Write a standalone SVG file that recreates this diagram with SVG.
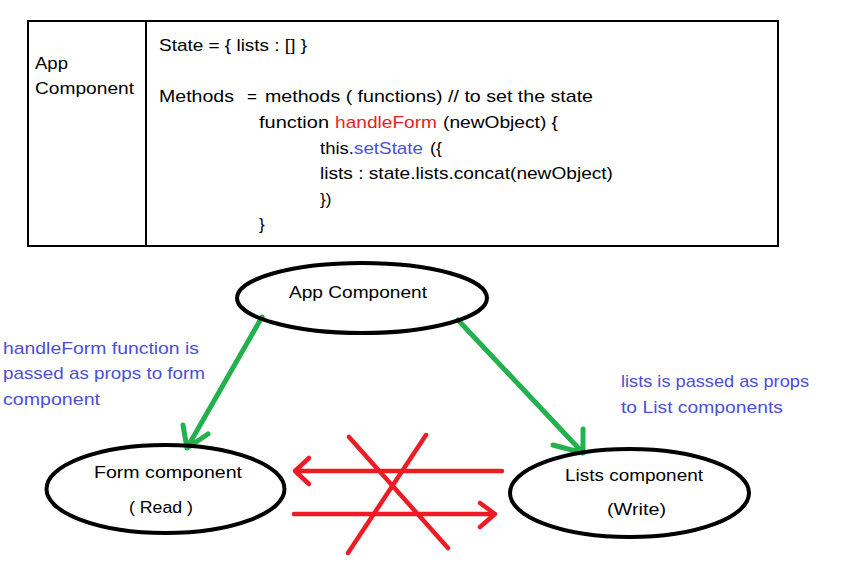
<svg xmlns="http://www.w3.org/2000/svg" width="851" height="567" viewBox="0 0 851 567">
<style>
  text { font-family: "Liberation Sans", Arial, sans-serif; font-size: 17px; fill: #000; }
  .blue { fill: #4b4fd8; }
  .red { fill: #ed1c24; }
  .node { fill: none; stroke: #000; stroke-width: 4; }
  .green { stroke: #22b14c; stroke-width: 5; fill: none; stroke-linecap: round; stroke-linejoin: round; }
  .redl { stroke: #ed1c24; stroke-width: 4.5; fill: none; stroke-linecap: round; stroke-linejoin: round; }
</style>
<rect width="851" height="567" fill="#fff"/>
<g id="table">
  <rect x="28" y="21" width="750" height="225" fill="none" stroke="#000" stroke-width="2"/>
  <line x1="146" y1="21" x2="146" y2="246" stroke="#000" stroke-width="2"/>
  <text x="35" y="69" textLength="33" lengthAdjust="spacingAndGlyphs">App</text>
  <text x="35" y="94" textLength="99" lengthAdjust="spacingAndGlyphs">Component</text>
  <text x="159" y="51" textLength="148" lengthAdjust="spacingAndGlyphs">State = { lists : [] }</text>
  <text y="102"><tspan x="159" textLength="75" lengthAdjust="spacingAndGlyphs">Methods</tspan><tspan x="247">=</tspan><tspan x="265" textLength="328" lengthAdjust="spacingAndGlyphs">methods ( functions) // to set the state</tspan></text>
  <text y="128"><tspan x="259" textLength="70" lengthAdjust="spacingAndGlyphs">function</tspan><tspan x="335" class="red" textLength="102" lengthAdjust="spacingAndGlyphs">handleForm</tspan><tspan x="443" textLength="115" lengthAdjust="spacingAndGlyphs">(newObject) {</tspan></text>
  <text y="154"><tspan x="320" textLength="34" lengthAdjust="spacingAndGlyphs">this.</tspan><tspan x="354" class="blue" textLength="69" lengthAdjust="spacingAndGlyphs">setState</tspan><tspan x="430" textLength="12" lengthAdjust="spacingAndGlyphs">({</tspan></text>
  <text x="320" y="179" textLength="293" lengthAdjust="spacingAndGlyphs">lists : state.lists.concat(newObject)</text>
  <text x="320" y="205">})</text>
  <text x="259" y="230">}</text>
</g>
<g id="connectors">
  <path class="green" d="M262 317 L187 448 M183 425 L187 448 L208 434"/>
  <path class="green" d="M458 320 L583 453 M583 429 L583 453 L553 445"/>
  <path class="redl" d="M502 471 L295 471 M309 458 L295 471 L309 484"/>
  <path class="redl" d="M294 514 L495 514 M480 503 L495 514 L480 527"/>
  <path class="redl" d="M349 437 L448 548 M426 435 L348 553"/>
</g>
<g id="app-node">
  <ellipse class="node" cx="362" cy="298" rx="125" ry="35"/>
  <text x="358" y="298" text-anchor="middle" textLength="138" lengthAdjust="spacingAndGlyphs">App Component</text>
</g>
<g id="form-node">
  <ellipse class="node" cx="165.5" cy="489" rx="119" ry="44"/>
  <text x="168" y="478" text-anchor="middle" textLength="148" lengthAdjust="spacingAndGlyphs">Form component</text>
  <text x="161" y="513" text-anchor="middle" textLength="64" lengthAdjust="spacingAndGlyphs">( Read )</text>
</g>
<g id="lists-node">
  <ellipse class="node" cx="629.5" cy="493" rx="119.5" ry="44"/>
  <text x="634" y="481" text-anchor="middle" textLength="138" lengthAdjust="spacingAndGlyphs">Lists component</text>
  <text x="636.5" y="515" text-anchor="middle" textLength="59" lengthAdjust="spacingAndGlyphs">(Write)</text>
</g>
<g id="left-label">
  <text class="blue" x="3" y="354" textLength="196" lengthAdjust="spacingAndGlyphs">handleForm function is</text>
  <text class="blue" x="3" y="379" textLength="202" lengthAdjust="spacingAndGlyphs">passed as props to form</text>
  <text class="blue" x="3" y="405" textLength="97" lengthAdjust="spacingAndGlyphs">component</text>
</g>
<g id="right-label">
  <text class="blue" x="621" y="387" textLength="188" lengthAdjust="spacingAndGlyphs">lists is passed as props</text>
  <text class="blue" x="621" y="413" textLength="162" lengthAdjust="spacingAndGlyphs">to List components</text>
</g>
</svg>
